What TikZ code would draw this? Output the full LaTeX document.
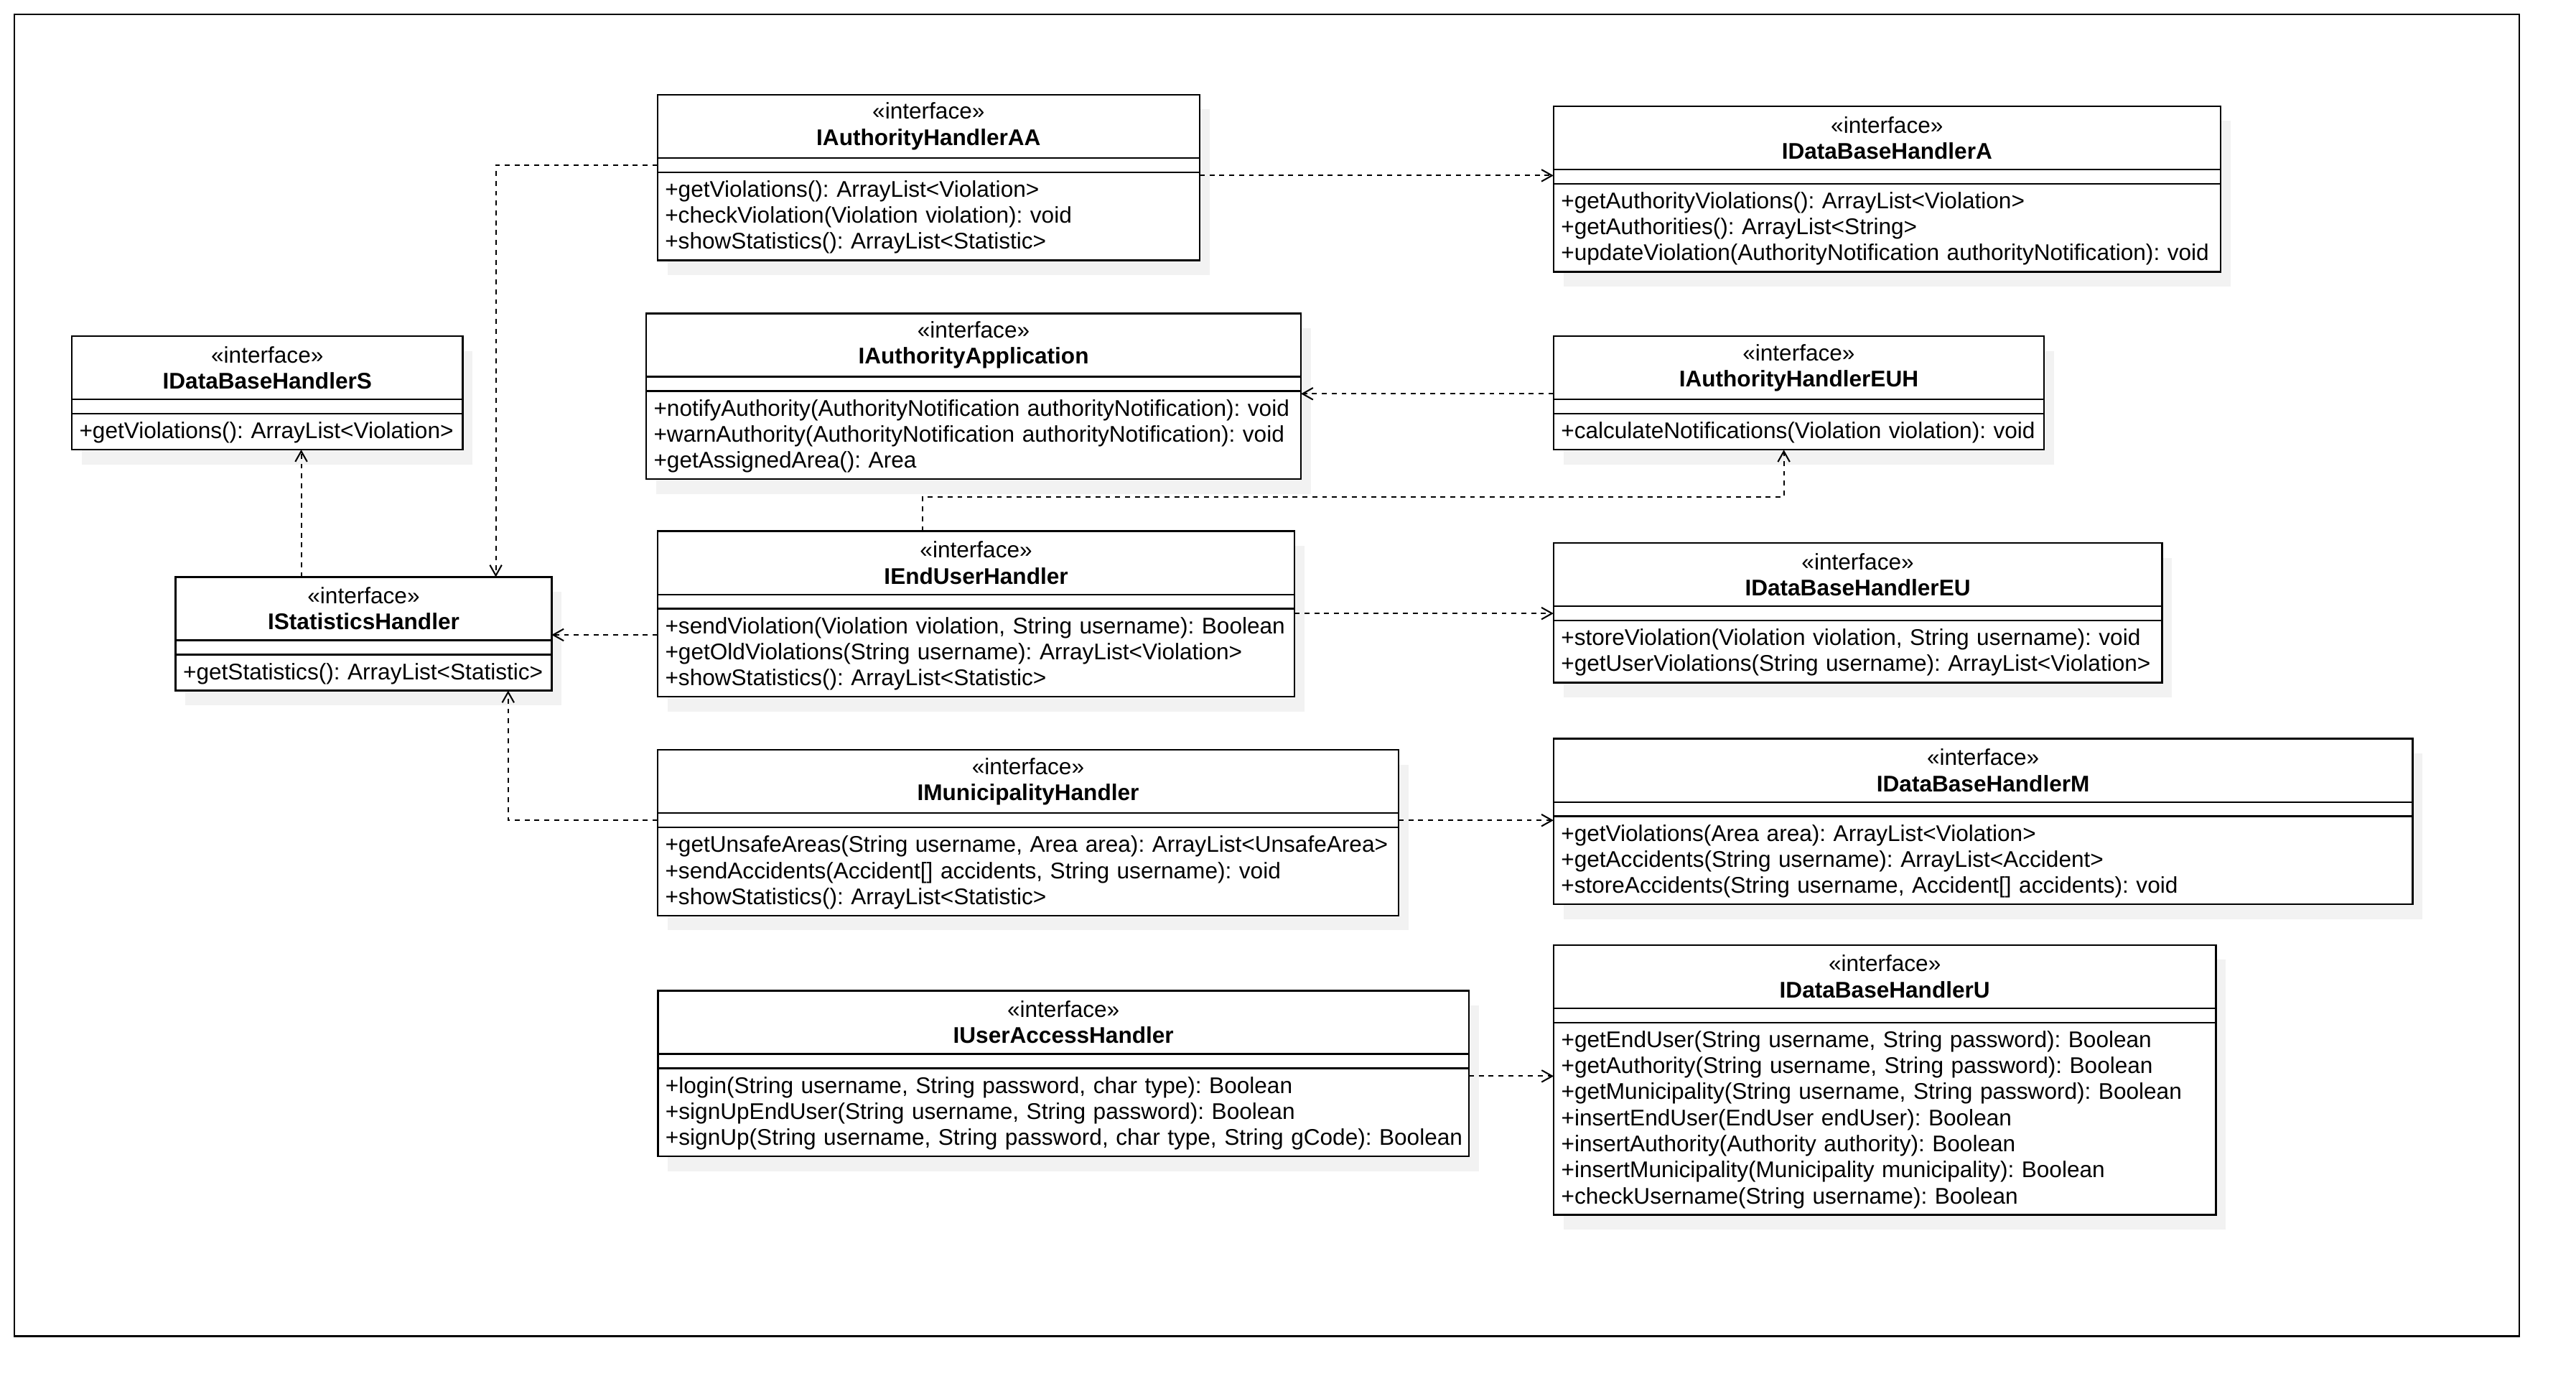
\documentclass[tikz,border=0pt]{standalone}
\usepackage{fontspec}
\setmainfont{Liberation Sans}
\usetikzlibrary{positioning, arrows.meta, shadows}
\tikzset{
    every node/.style={font=\fontsize{6.9}{7.925}\selectfont\frenchspacing}, % small UML text
    ipart/.style={draw, line width=0.5pt, fill=white, inner xsep=2.3pt, inner ysep=0pt, outer sep=0pt,
        drop shadow={shadow xshift=3pt, shadow yshift=-4.5pt, fill=black!5, opacity=1, draw=none}},
    ihead/.style={ipart, align=center, minimum height=19.25pt}, % stereotype + name
    igap/.style={ipart, minimum height=4.35pt}, % empty attribute part
    iops/.style={ipart, align=left}, % operations
    dep/.style={line width=0.45pt, dash pattern=on 1.5pt off 1.5pt,
        -{Straight Barb[length=3.2pt, width=3.6pt]}}, % dependency
}
% interface box: id, x, y, width, name, number of operations, operations
\newcommand{\iface}[7]{%
    \pgfmathsetmacro{\clsw}{#4/2}%
    \pgfmathsetmacro{\clstw}{#4/2-4.6}%
    \pgfmathsetmacro{\clsh}{7.925*#6+3.03}%
    \node[ihead, anchor=north west, minimum width=\clsw pt, text width=\clstw pt] (#1-h) at (#2,#3) {«interface»\\\textbf{#5}};
    \node[igap, minimum width=\clsw pt, below=0pt of #1-h] (#1-g) {};
    \node[iops, minimum width=\clsw pt, minimum height=\clsh pt, text width=\clstw pt, below=0pt of #1-g] (#1-o)
        {\raisebox{0pt}[\dimexpr\height+1pt\relax][\depth]{\begin{tabular}{@{}l@{}}#7\end{tabular}}};
}

\begin{document}
\begin{tikzpicture}[x=0.5pt, y=-0.5pt]
    \useasboundingbox (0,0) rectangle (1568,848);
    \draw[line width=0.5pt] (8.6,8.6) rectangle (1533.3,813);

    \iface{authAA}{400.2}{57.6}{330}{IAuthorityHandlerAA}{3}{+getViolations(): ArrayList<Violation>\\+checkViolation(Violation violation): void\\+showStatistics(): ArrayList<Statistic>}
    \iface{dbA}{945.6}{64.6}{406}{IDataBaseHandlerA}{3}{+getAuthorityViolations(): ArrayList<Violation>\\+getAuthorities(): ArrayList<String>\\+updateViolation(AuthorityNotification authorityNotification): void}
    \iface{dbS}{43.7}{204.5}{238}{IDataBaseHandlerS}{1}{+getViolations(): ArrayList<Violation>}
    \iface{authApp}{393.3}{190.7}{398.6}{IAuthorityApplication}{3}{+notifyAuthority(AuthorityNotification authorityNotification): void\\+warnAuthority(AuthorityNotification authorityNotification): void\\+getAssignedArea(): Area}
    \iface{authEUH}{945.6}{204.6}{298.6}{IAuthorityHandlerEUH}{1}{+calculateNotifications(Violation violation): void}
    \iface{stats}{106.9}{351.1}{228.9}{IStatisticsHandler}{1}{+getStatistics(): ArrayList<Statistic>}
    \iface{endUser}{400.3}{323.2}{387.7}{IEndUserHandler}{3}{+sendViolation(Violation violation, String username): Boolean\\+getOldViolations(String username): ArrayList<Violation>\\+showStatistics(): ArrayList<Statistic>}
    \iface{dbEU}{945.6}{330.4}{370.4}{IDataBaseHandlerEU}{2}{+storeViolation(Violation violation, String username): void\\+getUserViolations(String username): ArrayList<Violation>}
    \iface{muni}{400.3}{456.3}{451}{IMunicipalityHandler}{3}{+getUnsafeAreas(String username, Area area): ArrayList<UnsafeArea>\\+sendAccidents(Accident[] accidents, String username): void\\+showStatistics(): ArrayList<Statistic>}
    \iface{dbM}{945.6}{449.5}{523}{IDataBaseHandlerM}{3}{+getViolations(Area area): ArrayList<Violation>\\+getAccidents(String username): ArrayList<Accident>\\+storeAccidents(String username, Accident[] accidents): void}
    \iface{userAccess}{400.5}{602.8}{493.6}{IUserAccessHandler}{3}{+login(String username, String password, char type): Boolean\\+signUpEndUser(String username, String password): Boolean\\+signUp(String username, String password, char type, String gCode): Boolean}
    \iface{dbU}{945.7}{575}{403.1}{IDataBaseHandlerU}{7}{+getEndUser(String username, String password): Boolean\\+getAuthority(String username, String password): Boolean\\+getMunicipality(String username, String password): Boolean\\+insertEndUser(EndUser endUser): Boolean\\+insertAuthority(Authority authority): Boolean\\+insertMunicipality(Municipality municipality): Boolean\\+checkUsername(String username): Boolean}

    % connector end points
    \coordinate (aaOut) at ([yshift=-1pt]authAA-o.north east);
    \coordinate (appIn) at ([yshift=-0.85pt]authApp-o.north east);
    \coordinate (euUp) at ([xshift=80.6pt]endUser-h.north west);
    \coordinate (euhIn) at ([xshift=-4.55pt]authEUH-o.south);
    \coordinate (euLeft) at ([yshift=-7.95pt]endUser-o.north west);
    \coordinate (stUp) at ([xshift=-19pt]stats-h.north);
    \coordinate (uaOut) at ([yshift=-2.4pt]userAccess-o.north east);

    \draw[dep] (authAA-g.west) -| ([xshift=-17pt]stats-h.north east);
    \draw[dep] (aaOut) -- (aaOut -| dbA-g.west);
    \draw[dep] (appIn -| authEUH-h.west) -- (appIn);
    \draw[dep] (euUp) -- ++(0,-20.7) -| (euhIn);
    \draw[dep] (euLeft) -- (euLeft -| stats-h.east);
    \draw[dep] (dbEU-g.west -| endUser-o.east) -- (dbEU-g.west);
    \draw[dep] (stUp) -- (stUp |- dbS-o.south);
    \draw[dep] (muni-g.west) -| ([xshift=-13.25pt]stats-o.south east);
    \draw[dep] (muni-g.east) -- (muni-g.east -| dbM-o.west);
    \draw[dep] (uaOut) -- (uaOut -| dbU-o.west);
\end{tikzpicture}
\end{document}
